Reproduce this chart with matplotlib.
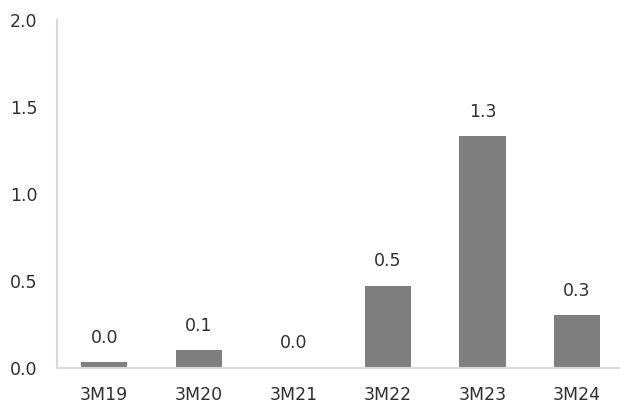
import matplotlib.pyplot as plt

categories = ["3M19", "3M20", "3M21", "3M22", "3M23", "3M24"]
values = [0.03, 0.10, 0.0, 0.47, 1.33, 0.30]
yticks = [0.0, 0.5, 1.0, 1.5, 2.0]

text_color = "#303030"
axis_color = "#d9d9d9"

plt.rcParams["font.family"] = ["DejaVu Sans"]

fig = plt.figure(figsize=(6.2, 4.03), dpi=100)
ax = fig.add_axes([0.0919, 0.088, 0.915, 0.8635])

x = list(range(len(categories)))
bars = ax.bar(x, values, width=0.49, color="#7f7f7f", zorder=2)

for bar, v in zip(bars, values):
    ax.annotate(f"{v:.1f}", (bar.get_x() + bar.get_width() / 2, v),
                xytext=(0, 11), textcoords="offset points",
                ha="center", va="bottom", fontsize=12.5, color=text_color)

ax.set_xlim(-0.5, len(categories) - 0.5)
ax.set_ylim(0, 2.0)
ax.set_xticks(x)
ax.set_xticklabels(categories)
ax.set_yticks(yticks)
ax.set_yticklabels([f"{t:.1f}" for t in yticks])
ax.tick_params(axis="both", length=0, labelsize=12.5, labelcolor=text_color)
ax.tick_params(axis="y", pad=14)
ax.tick_params(axis="x", pad=13)

for side in ("top", "right"):
    ax.spines[side].set_visible(False)
for side in ("left", "bottom"):
    ax.spines[side].set_color(axis_color)
    ax.spines[side].set_linewidth(1.5)

fig.savefig("out.png", dpi=100)
